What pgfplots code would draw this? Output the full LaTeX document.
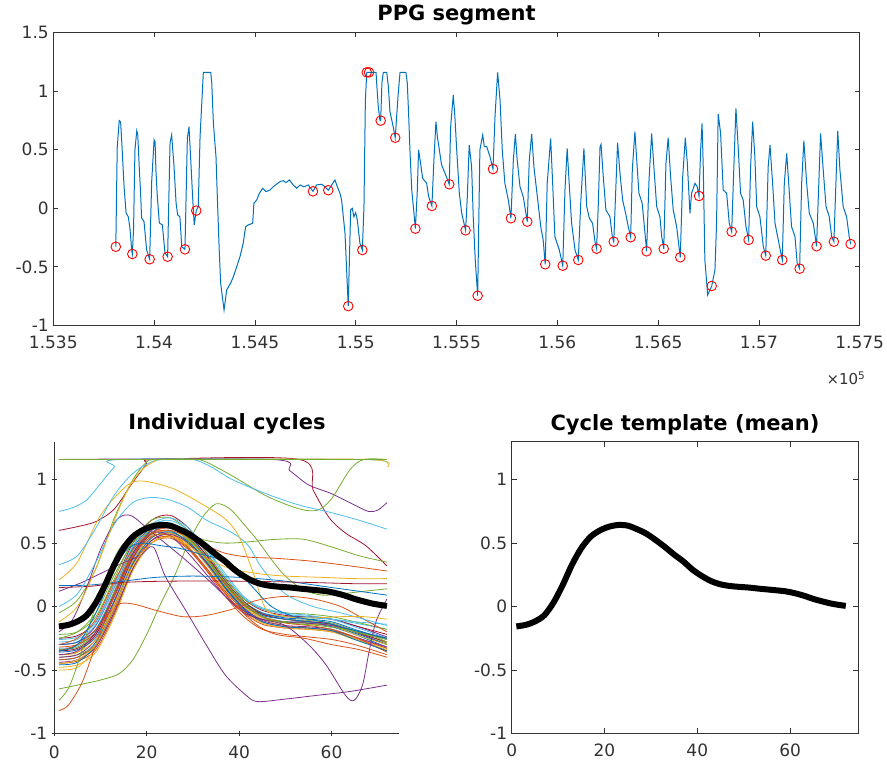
\documentclass[border=0pt]{standalone}
\usepackage{fontspec}
\setmainfont{DejaVu Sans}
\usepackage{pgfplots}
\pgfplotsset{compat=1.18}
\usepackage{pgfplotstable}

\definecolor{mblue}{RGB}{0,114,189}
\definecolor{morange}{RGB}{217,83,25}
\definecolor{myellow}{RGB}{237,177,32}
\definecolor{mpurple}{RGB}{126,47,142}
\definecolor{mgreen}{RGB}{119,172,48}
\definecolor{mcyan}{RGB}{77,190,238}
\definecolor{mdred}{RGB}{162,20,47}
\definecolor{axcol}{RGB}{50,50,50}

\pgfplotstableread{
x G1 G2 G3 G4 G5 G6 G7 G8 G9 G10 G11 G12 G13 G14 G15 G16 G17 G18 G19 G20 G21 G22
1 -0.42 -0.38 -0.48 -0.30 -0.40 -0.33 -0.25 -0.36 -0.45 -0.50 -0.40 -0.22 -0.28 -0.35 -0.30 -0.42 -0.38 -0.44 -0.34 -0.26 -0.32 -0.46
5 -0.40 -0.36 -0.46 -0.28 -0.38 -0.31 -0.23 -0.34 -0.43 -0.48 -0.38 -0.20 -0.26 -0.33 -0.28 -0.40 -0.36 -0.42 -0.32 -0.24 -0.30 -0.44
9 -0.28 -0.22 -0.36 -0.15 -0.30 -0.18 -0.12 -0.24 -0.34 -0.32 -0.26 -0.08 -0.14 -0.22 -0.18 -0.30 -0.26 -0.32 -0.20 -0.12 -0.20 -0.30
13 0.02 0.08 -0.08 0.15 -0.05 0.12 0.18 0.05 -0.06 0.02 0.04 0.22 0.15 0.08 0.10 -0.02 0.02 -0.04 0.12 0.18 0.08 0.00
17 0.36 0.40 0.28 0.46 0.30 0.44 0.50 0.38 0.30 0.35 0.38 0.52 0.47 0.40 0.42 0.33 0.36 0.30 0.44 0.48 0.40 0.34
21 0.56 0.57 0.50 0.62 0.52 0.62 0.68 0.58 0.50 0.54 0.58 0.68 0.64 0.60 0.60 0.52 0.56 0.52 0.61 0.65 0.58 0.54
25 0.60 0.58 0.56 0.63 0.58 0.66 0.72 0.64 0.54 0.58 0.62 0.70 0.68 0.65 0.63 0.55 0.60 0.57 0.64 0.70 0.62 0.59
29 0.50 0.47 0.49 0.52 0.52 0.56 0.62 0.56 0.45 0.50 0.54 0.60 0.60 0.57 0.54 0.46 0.53 0.50 0.55 0.62 0.54 0.51
33 0.33 0.30 0.34 0.35 0.38 0.38 0.42 0.40 0.28 0.33 0.38 0.42 0.44 0.40 0.37 0.30 0.36 0.34 0.37 0.45 0.38 0.35
37 0.14 0.10 0.16 0.16 0.20 0.18 0.22 0.20 0.08 0.13 0.18 0.22 0.24 0.20 0.18 0.12 0.16 0.15 0.17 0.26 0.18 0.15
41 -0.02 -0.05 0.00 0.01 0.04 0.03 0.06 0.04 -0.08 -0.04 0.02 0.06 0.07 0.04 0.02 -0.03 0.00 -0.01 0.01 0.08 0.02 -0.02
45 -0.10 -0.14 -0.10 -0.06 -0.06 -0.05 -0.03 -0.05 -0.18 -0.13 -0.08 -0.02 -0.02 -0.06 -0.07 -0.12 -0.09 -0.11 -0.08 -0.01 -0.08 -0.12
50 -0.12 -0.17 -0.15 -0.08 -0.10 -0.08 -0.07 -0.09 -0.22 -0.17 -0.12 -0.05 -0.06 -0.10 -0.10 -0.16 -0.13 -0.15 -0.12 -0.05 -0.13 -0.16
55 -0.13 -0.18 -0.17 -0.08 -0.11 -0.09 -0.08 -0.10 -0.24 -0.18 -0.12 -0.06 -0.08 -0.12 -0.12 -0.17 -0.14 -0.16 -0.13 -0.07 -0.15 -0.17
60 -0.16 -0.20 -0.19 -0.10 -0.13 -0.10 -0.10 -0.12 -0.26 -0.20 -0.14 -0.08 -0.10 -0.14 -0.15 -0.19 -0.15 -0.18 -0.15 -0.10 -0.18 -0.19
65 -0.22 -0.25 -0.25 -0.15 -0.19 -0.13 -0.15 -0.18 -0.30 -0.26 -0.20 -0.12 -0.12 -0.20 -0.21 -0.24 -0.22 -0.24 -0.20 -0.16 -0.24 -0.26
72 -0.32 -0.35 -0.33 -0.24 -0.29 -0.18 -0.22 -0.26 -0.38 -0.34 -0.30 -0.18 -0.14 -0.28 -0.30 -0.33 -0.30 -0.32 -0.26 -0.25 -0.36 -0.35
}\cycles

\pgfplotstableread{
x y
1 -0.157
3 -0.145
5 -0.118
7 -0.070
9 0.030
11 0.170
13 0.330
15 0.460
17 0.550
19 0.600
21 0.630
23 0.643
25 0.638
27 0.610
29 0.575
31 0.525
33 0.470
35 0.410
37 0.355
39 0.290
41 0.240
43 0.200
45 0.175
47 0.162
49 0.155
51 0.150
53 0.142
55 0.135
57 0.128
59 0.120
61 0.105
63 0.085
65 0.060
67 0.040
69 0.022
71 0.010
72 0.005
}\meancycle

\pgfplotsset{
  mstyle/.style={
    scale only axis, tick align=inside,
    axis line style={axcol, line width=0.8pt},
    major tick style={axcol, line width=0.8pt},
    major tick length=5pt,
    ticklabel style={font=\fontsize{17}{20}\selectfont, text=axcol},
    xticklabel style={yshift=-7pt},
    yticklabel style={xshift=-1pt},
    /pgf/number format/assume math mode=true,
  },
  cyc/.style={line width=0.8pt, smooth, tension=0.5},
}

\begin{document}
\begin{tikzpicture}
% ---------------- top: PPG segment
\begin{axis}[mstyle,
  at={(53.3pt,443.5pt)}, anchor=south west,
  width=806.4pt, height=293pt,
  xmin=153500, xmax=157500, ymin=-1, ymax=1.5,
  scaled x ticks=false,
  xtick={153500,154000,154500,155000,155500,156000,156500,157000,157500},
  xticklabels={1.535,1.54,1.545,1.55,1.555,1.56,1.565,1.57,1.575},
  ytick={-1,-0.5,0,0.5,1,1.5},
  yticklabels={-1,-0.5,0,0.5,1,1.5},
]
\addplot[mblue, line width=1pt] coordinates {
(153810,-0.328) (153812,-0.100) (153817,0.515) (153827,0.748) (153834,0.736) (153841,0.523) (153851,0.184) (153861,-0.040) (153872,-0.072) (153880,-0.168) (153889,-0.356) (153892,-0.390)
(153898,-0.185) (153905,0.498) (153914,0.662) (153919,0.626) (153927,0.327) (153933,0.131) (153938,-0.083) (153950,-0.114) (153963,-0.356) (153978,-0.435)
(153988,0.227) (154000,0.583) (154005,0.566) (154009,0.327) (154016,0.099) (154026,-0.125) (154041,-0.142) (154054,-0.381) (154067,-0.413)
(154079,0.557) (154087,0.626) (154099,0.355) (154109,0.045) (154117,-0.057) (154128,-0.072) (154137,-0.328) (154153,-0.350)
(154165,0.600) (154173,0.696) (154181,0.440) (154191,0.099) (154199,-0.142) (154209,-0.020)
(154219,0.014) (154228,0.611) (154244,1.152) (154246,1.160) (154281,1.160) (154286,1.069) (154294,0.728) (154307,0.440) (154313,0.131) (154323,-0.356) (154330,-0.637) (154347,-0.868) (154360,-0.697) (154380,-0.637) (154393,-0.584) (154410,-0.498) (154426,-0.413) (154442,-0.299) (154454,-0.157) (154467,-0.142) (154489,-0.128) (154495,0.043) (154509,0.071) (154522,0.128) (154539,0.171) (154555,0.142) (154575,0.156) (154591,0.184) (154624,0.227) (154641,0.236) (154654,0.219) (154671,0.242) (154690,0.199) (154707,0.171) (154724,0.199) (154743,0.184) (154765,0.199) (154788,0.145) (154806,0.199) (154831,0.205) (154848,0.184) (154864,0.154) (154881,0.199) (154897,0.242) (154909,0.184) (154922,0.128) (154930,0.071) (154947,-0.213) (154958,-0.640) (154963,-0.835)
(154975,-0.014) (154983,0.000) (154991,-0.072) (155000,-0.037) (155008,-0.100) (155021,-0.299) (155033,-0.356) (155041,0.014) (155048,0.924) (155055,1.160) (155101,1.160) (155104,1.069) (155112,0.867) (155120,0.753) (155124,0.748) (155130,1.067) (155137,1.160) (155154,1.160) (155162,1.038) (155170,0.824) (155186,0.696) (155196,0.602) (155211,0.981) (155220,1.160) (155249,1.160) (155256,1.067) (155263,0.782) (155269,0.498) (155278,0.156) (155286,0.014) (155296,-0.174) (155305,0.128) (155312,0.498) (155322,0.384) (155332,0.256) (155352,0.213) (155362,0.099) (155378,0.020) (155388,0.412) (155398,0.739) (155405,0.611) (155415,0.498) (155426,0.370) (155443,0.299) (155464,0.205) (155471,0.696) (155484,0.967) (155492,0.782) (155501,0.498) (155514,0.128) (155526,-0.043) (155545,-0.188) (155553,0.071) (155563,0.540) (155575,0.355) (155583,-0.072) (155593,-0.441) (155605,-0.746) (155616,0.498) (155630,0.626) (155638,0.526) (155650,0.526) (155666,0.440) (155681,0.335) (155691,0.782) (155704,1.160) (155716,0.924) (155727,0.498) (155740,0.213) (155757,0.071) (155770,-0.085) (155782,0.412) (155792,0.634) (155801,0.412) (155815,0.184) (155831,0.099) (155851,-0.114) (155861,0.412) (155873,0.634) (155884,0.355) (155901,0.099) (155918,-0.157) (155930,-0.270) (155940,-0.478) (155950,0.213) (155967,0.597) (155977,0.213) (155988,-0.242) (156010,-0.356) (156027,-0.490) (156038,0.156) (156049,0.512) (156059,0.213) (156071,-0.128) (156088,-0.356) (156104,-0.441)
(156117,0.071) (156132,0.512) (156146,0.014) (156159,-0.085) (156175,-0.128) (156187,-0.285) (156195,-0.345) (156203,0.014) (156212,0.526) (156217,0.546) (156228,0.270) (156241,-0.014) (156261,-0.072) (156273,-0.242) (156280,-0.285) (156290,0.156) (156299,0.560) (156311,0.299) (156324,0.071) (156339,-0.043) (156352,-0.157) (156364,-0.247) (156372,0.327) (156385,0.654) (156394,0.412) (156405,0.128) (156421,0.043) (156435,-0.213) (156443,-0.367) (156455,0.242) (156468,0.640) (156479,0.355) (156493,0.014) (156509,-0.072) (156518,-0.242) (156528,-0.345) (156539,0.384) (156550,0.602) (156562,0.270) (156575,-0.014) (156592,-0.157) (156610,-0.418) (156622,0.270) (156635,0.602) (156645,0.384) (156658,-0.043) (156666,0.128) (156683,0.213) (156694,0.184) (156703,0.105) (156711,0.498) (156718,0.725) (156724,0.355) (156732,-0.441) (156746,-0.740) (156766,-0.663) (156782,-0.526) (156790,-0.128) (156798,0.805) (156810,0.640) (156823,0.156) (156840,0.128) (156853,-0.128) (156865,-0.200) (156873,0.213) (156886,0.853) (156898,0.498) (156909,0.128) (156922,0.071) (156936,-0.157) (156949,-0.270) (156959,0.355) (156969,0.739) (156980,0.440) (156989,0.014) (157005,-0.072) (157022,-0.328) (157034,-0.404) (157046,0.355) (157055,0.540) (157068,0.213) (157080,-0.128) (157096,-0.270) (157116,-0.441) (157126,0.213) (157138,0.469) (157150,0.156) (157162,-0.157) (157179,-0.242) (157190,-0.469) (157202,-0.515) (157212,0.213) (157223,0.577) (157237,0.213) (157250,-0.043) (157270,-0.128) (157286,-0.324) (157296,0.156) (157306,0.640) (157319,0.327) (157333,0.014) (157349,-0.072) (157361,-0.242) (157372,-0.285) (157382,0.213) (157391,0.660) (157402,0.327) (157418,0.014) (157435,-0.072) (157448,-0.242) (157455,-0.305)
};
\addplot[only marks, mark=o, mark size=4.8pt, mark options={red, line width=0.9pt}] coordinates {
(153810,-0.328) (153892,-0.390) (153978,-0.435) (154067,-0.413) (154153,-0.350) (154209,-0.020) (154788,0.145) (154864,0.154) (154963,-0.835) (155033,-0.356) (155055,1.160) (155066,1.160) (155124,0.748) (155196,0.602) (155296,-0.174) (155378,0.020) (155464,0.205) (155545,-0.188) (155605,-0.746) (155681,0.335) (155770,-0.085) (155851,-0.114) (155940,-0.478) (156027,-0.490) (156104,-0.441) (156195,-0.345) (156280,-0.285) (156364,-0.247) (156443,-0.367) (156528,-0.345) (156610,-0.418) (156703,0.105) (156766,-0.663) (156865,-0.200) (156949,-0.270) (157034,-0.404) (157116,-0.441) (157202,-0.515) (157286,-0.324) (157372,-0.285) (157455,-0.305)
};
\end{axis}
\node[font=\fontsize{15}{17}\selectfont, text=axcol] at (846pt,391pt) {×10\textsuperscript{5}};
\node[font=\fontsize{21}{24}\selectfont\bfseries] at (456.5pt,754pt) {PPG segment};

% ---------------- bottom left: individual cycles
\begin{axis}[mstyle,
  at={(54.3pt,35.7pt)}, anchor=south west,
  width=344.7pt, height=291.6pt,
  xmin=0, xmax=74.6, ymin=-1, ymax=1.3,
  axis x line=bottom, axis y line=left,
  axis line style={-},
  xtick={0,20,40,60}, xticklabels={0,20,40,60},
  ytick={-1,-0.5,0,0.5,1}, yticklabels={-1,-0.5,0,0.5,1},
]
\addplot[cyc, mblue] table[y=G1] {\cycles};
\addplot[cyc, morange] table[y=G2] {\cycles};
\addplot[cyc, myellow] table[y=G3] {\cycles};
\addplot[cyc, mpurple] table[y=G4] {\cycles};
\addplot[cyc, mgreen] table[y=G5] {\cycles};
\addplot[cyc, mcyan] table[y=G6] {\cycles};
\addplot[cyc, mdred] table[y=G7] {\cycles};
\addplot[cyc, mblue] table[y=G8] {\cycles};
\addplot[cyc, morange] table[y=G9] {\cycles};
\addplot[cyc, myellow] table[y=G10] {\cycles};
\addplot[cyc, mpurple] table[y=G11] {\cycles};
\addplot[cyc, mgreen] table[y=G12] {\cycles};
\addplot[cyc, mcyan] table[y=G13] {\cycles};
\addplot[cyc, mdred] table[y=G14] {\cycles};
\addplot[cyc, mblue] table[y=G15] {\cycles};
\addplot[cyc, morange] table[y=G16] {\cycles};
\addplot[cyc, myellow] table[y=G17] {\cycles};
\addplot[cyc, mpurple] table[y=G18] {\cycles};
\addplot[cyc, mgreen] table[y=G19] {\cycles};
\addplot[cyc, mcyan] table[y=G20] {\cycles};
\addplot[cyc, morange] table[y=G21] {\cycles};
\addplot[cyc, mblue] table[y=G22] {\cycles};
% atypical cycles
\addplot[cyc, mpurple] coordinates {(1,1.16) (47,1.16) (51,1.07) (55,0.96) (60,0.89) (65,0.80) (68,0.75) (70,0.76) (72,0.82)};
\addplot[cyc, mcyan] coordinates {(1,0.75) (4,0.78) (7,0.84) (10,0.97) (13,1.10) (15,1.16) (66,1.16) (72,1.13)};
\addplot[cyc, mdred] coordinates {(1,0.60) (5,0.63) (9,0.67) (13,0.77) (17,0.98) (20,1.12) (22,1.16) (53,1.16) (56,0.92) (59.5,0.70) (63,0.58) (67.4,0.48) (72,0.32)};
\addplot[cyc, mgreen] coordinates {(1,-0.65) (5,-0.62) (10,-0.58) (14,-0.53) (17,-0.42) (20,-0.22) (23,0.02) (26,0.24) (29,0.50) (32,0.70) (35,0.81) (38,0.77) (41,0.65) (44,0.52) (47,0.37) (50,0.24) (54,0.13) (58,0.09) (62,0.10) (67,0.12) (72,0.14)};
\addplot[cyc, mgreen] coordinates {(1,-0.05) (5,0.05) (9,0.30) (13,0.70) (17,1.00) (20,1.14) (22,1.16) (31,1.16) (35,1.10) (39,1.02) (46,0.87) (53,0.77) (57,0.76) (60,0.85) (64,1.08) (67,1.16) (72,1.16)};
\addplot[cyc, mpurple] coordinates {(1,0.12) (6,0.19) (10,0.26) (14,0.33) (18.5,0.40) (21.4,0.47) (24,0.24) (28.6,-0.04) (33,-0.31) (37,-0.54) (41.5,-0.70) (44,-0.75) (50,-0.73) (57,-0.70) (64,-0.67) (72,-0.62)};
\addplot[cyc, mpurple] coordinates {(1,-0.20) (4,-0.10) (7,0.15) (10,0.45) (13,0.66) (15,0.72) (17,0.71) (20,0.62) (24,0.50) (28,0.38) (33,0.22) (38,0.05) (43,-0.08) (48,-0.12) (54,-0.13) (60,-0.15) (66,-0.20) (72,-0.25)};
\addplot[cyc, mpurple] coordinates {(1,-0.38) (5,-0.35) (9,-0.20) (13,0.10) (17,0.42) (21,0.58) (25,0.56) (29,0.42) (33,0.25) (37,0.08) (41,-0.05) (45,-0.10) (50,-0.15) (55,-0.30) (58.8,-0.46) (63,-0.70) (64.9,-0.74) (66.7,-0.62) (68.1,-0.36) (69.6,-0.12) (72,0.06)};
\addplot[cyc, morange] coordinates {(1,-0.82) (3,-0.78) (6,-0.60) (9,-0.30) (12,0.00) (15,0.28) (18,0.45) (21,0.55) (24,0.57) (28,0.50) (32,0.33) (36,0.15) (40,-0.02) (44,-0.15) (48,-0.22) (54,-0.25) (60,-0.30) (66,-0.34) (72,-0.40)};
\addplot[cyc, morange] coordinates {(1,-0.35) (5,-0.30) (9,-0.18) (13.5,0.01) (17,0.02) (22,-0.03) (27.8,-0.08) (32.9,-0.07) (38.6,-0.02) (44,0.05) (50,0.08) (56,0.06) (62,0.00) (67,-0.10) (72,-0.20)};
\addplot[cyc, mblue] coordinates {(1,0.165) (8,0.17) (15,0.20) (22,0.23) (30,0.24) (40,0.23) (50,0.20) (60,0.15) (66,0.12) (72,0.09)};
\addplot[cyc, mdred] coordinates {(1,0.15) (8,0.16) (15,0.19) (25,0.20) (40,0.20) (55,0.19) (65,0.18) (72,0.18)};
\addplot[cyc, morange] coordinates {(1,-0.30) (5,-0.25) (9,-0.10) (13,0.20) (17,0.45) (21,0.58) (25,0.60) (29,0.55) (33,0.48) (37,0.42) (42,0.39) (48,0.38) (55,0.36) (62,0.33) (72,0.28)};
\addplot[cyc, mgreen] coordinates {(1,-0.25) (5,-0.20) (9,-0.05) (13,0.25) (17,0.50) (21,0.62) (25,0.62) (29,0.57) (33,0.52) (37,0.50) (42,0.51) (48,0.53) (54,0.53) (60,0.47) (66,0.40) (72,0.35)};
\addplot[cyc, mcyan] coordinates {(1,0.00) (5,0.10) (9,0.35) (13,0.65) (17,0.82) (21,0.86) (25,0.84) (29,0.78) (33,0.68) (38.6,0.58) (42,0.48) (45,0.30) (50,0.10) (56,0.00) (62,-0.05) (67,-0.10) (72,-0.15)};
\addplot[cyc, myellow] coordinates {(1,0.21) (5,0.35) (10,0.72) (15.6,0.95) (19.2,0.99) (25.7,0.93) (31.4,0.82) (37,0.69) (40,0.55) (43,0.27) (45.8,-0.02) (50,-0.08) (56,-0.09) (62,-0.08) (67,-0.08) (72,-0.10)};
\addplot[cyc, mcyan] coordinates {(1,0.33) (5,0.40) (9,0.62) (13,0.88) (17,1.05) (21,1.14) (24,1.16) (30,1.16) (34,1.10) (38.6,1.00) (45.8,0.89) (53,0.80) (60,0.74) (66,0.68) (72,0.61)};
\addplot[cyc, myellow] coordinates {(1,-0.12) (5,0.00) (9,0.30) (13,0.68) (16,0.93) (19,1.08) (22,1.15) (24,1.16) (68,1.16) (72,1.10)};
\addplot[cyc, mgreen] coordinates {(1,-0.74) (3,-0.65) (5,-0.46) (8,-0.10) (11,0.20) (14,0.45) (18,0.60) (22,0.66) (26,0.62) (30,0.50) (34,0.33) (38,0.15) (42,0.00) (46,-0.10) (51,-0.13) (57,-0.15) (63,-0.18) (68,-0.22) (72,-0.28)};
\addplot[cyc, myellow] coordinates {(1,-0.45) (5,-0.42) (9,-0.30) (13,0.00) (17,0.32) (21,0.50) (25,0.55) (29,0.48) (33,0.38) (38,0.30) (44,0.26) (50,0.24) (58,0.23) (65,0.22) (72,0.22)};
\addplot[cyc, mblue] coordinates {(1,-0.35) (5,-0.30) (9,-0.05) (13,0.30) (16,0.46) (19,0.50) (23,0.48) (27,0.46) (31,0.42) (35,0.38) (39,0.30) (43,0.15) (47,0.00) (52,-0.08) (58,-0.12) (64,-0.18) (72,-0.25)};
\addplot[cyc, mgreen] coordinates {(1,1.16) (72,1.16)};
\addplot[black, line width=6pt, smooth] table {\meancycle};
\end{axis}
\node[font=\fontsize{21}{24}\selectfont\bfseries] at (227pt,345pt) {Individual cycles};

% ---------------- bottom right: template
\begin{axis}[mstyle,
  at={(511.7pt,35.7pt)}, anchor=south west,
  width=346.6pt, height=291.6pt,
  xmin=0, xmax=74.7, ymin=-1, ymax=1.3,
  xtick={0,20,40,60}, xticklabels={0,20,40,60},
  ytick={-1,-0.5,0,0.5,1}, yticklabels={-1,-0.5,0,0.5,1},
]
\addplot[black, line width=6pt, smooth] table {\meancycle};
\end{axis}
\node[font=\fontsize{21}{24}\selectfont\bfseries] at (685pt,344pt) {Cycle template (mean)};

\pgfresetboundingbox
\useasboundingbox (0,0) rectangle (887pt,769pt);
\end{tikzpicture}
\end{document}
